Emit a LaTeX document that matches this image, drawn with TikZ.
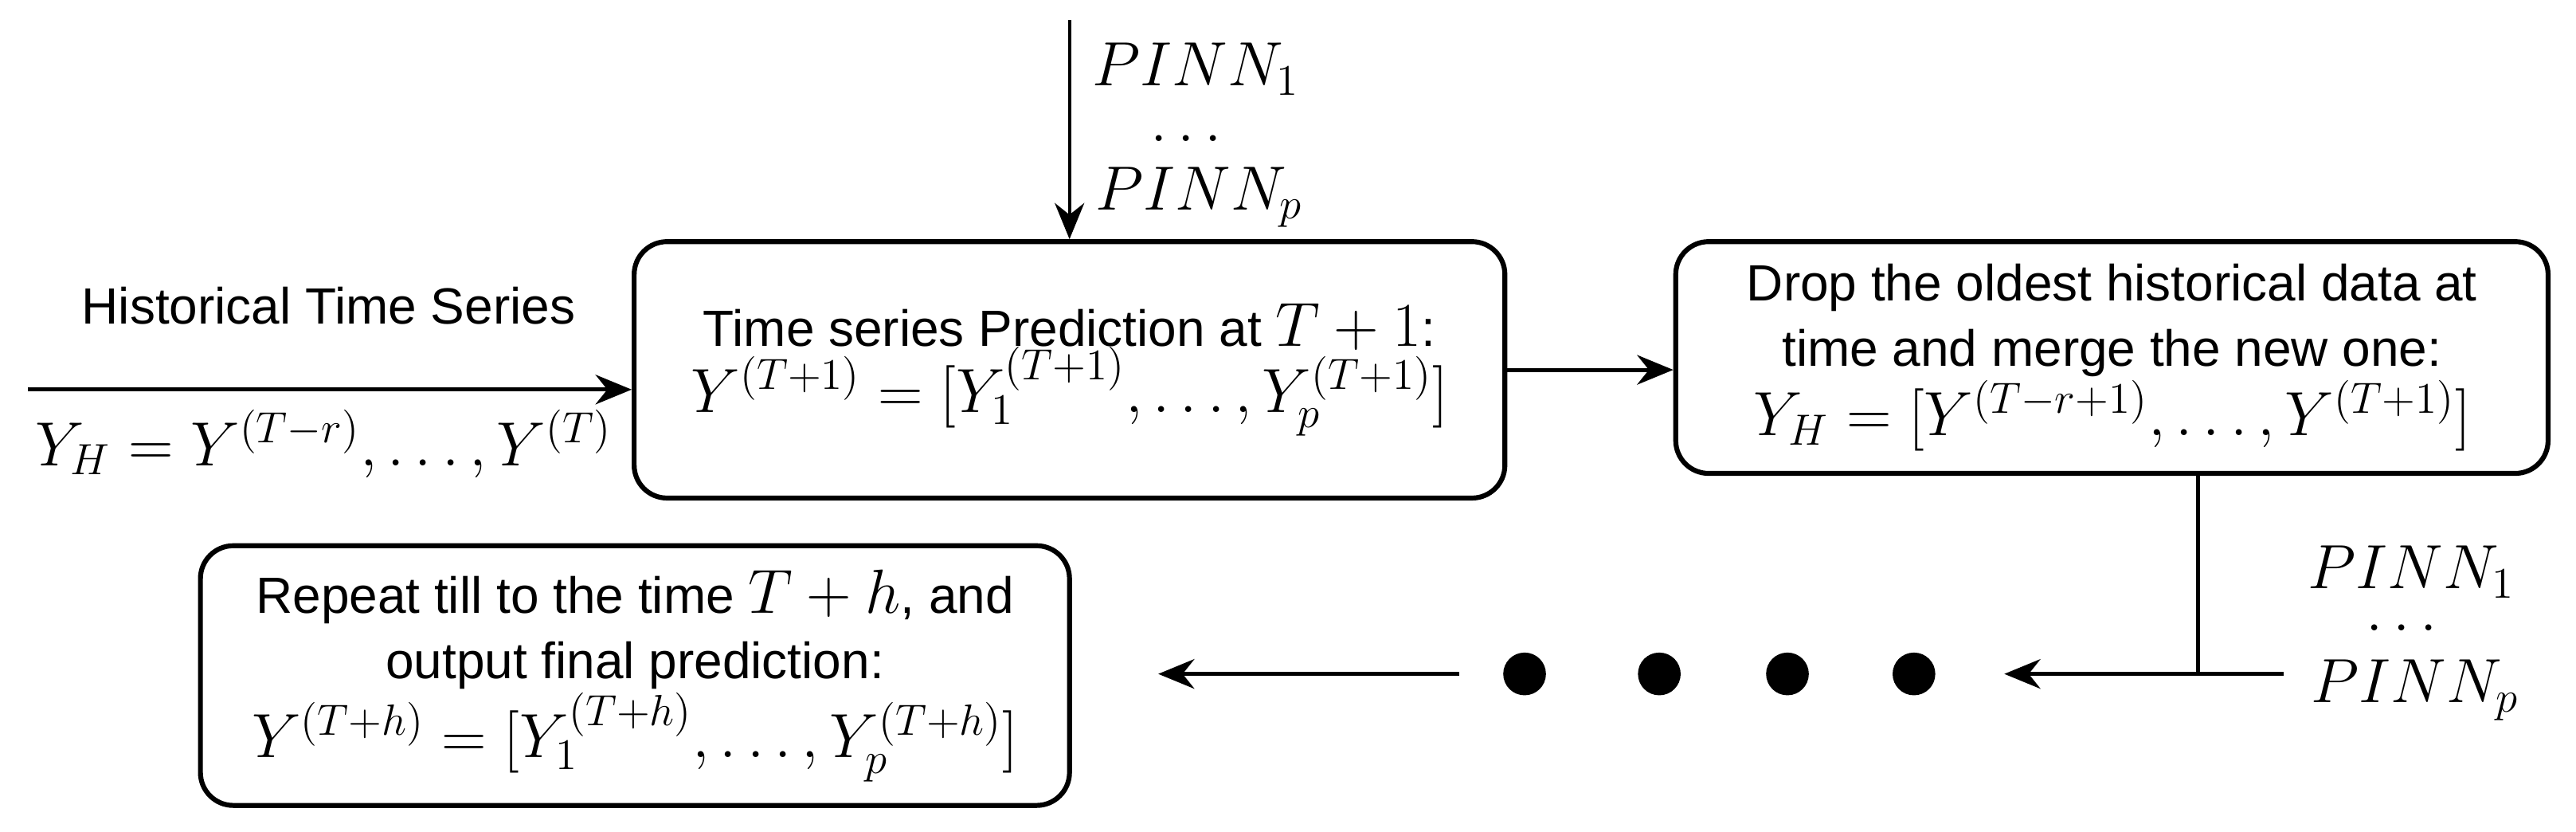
\documentclass[tikz,border=0pt]{standalone}
\usepackage{fix-cm}
\usepackage{fontspec}
\setmainfont{Liberation Sans}
\usetikzlibrary{arrows.meta}
\newcommand{\formula}[1]{{\fontsize{19}{24}\selectfont$#1$}}
\tikzset{
  stepbox/.style={draw,line width=1.5pt,rounded corners=10pt,align=center,inner sep=2pt},
  flow/.style={line width=1.2pt,-{Stealth[length=11pt,width=9pt]}},
  dot/.style={circle,fill=black,inner sep=0pt,minimum size=13pt}
}
\begin{document}
\fontsize{15.5}{20}\selectfont
\begin{tikzpicture}[x=0.5pt,y=-0.5pt]
\useasboundingbox (0,0) rectangle (1568,505.7);
% Boxes
\node[stepbox,minimum width=265pt,minimum height=78pt] (pred) at (651,225)
  {Time series Prediction at \formula{T+1}:\\[-2pt] \formula{Y^{(T+1)}=[Y_1^{(T+1)},\dots,Y_p^{(T+1)}]}};
\node[stepbox,minimum width=265.5pt,minimum height=70.5pt] (merge) at (1285.5,217.5)
  {Drop the oldest historical data at\\ time and merge the new one:\\ \formula{Y_H=[Y^{(T-r+1)},\dots,Y^{(T+1)}]}};
\node[stepbox,minimum width=264.5pt,minimum height=79pt] (final) at (386.5,411)
  {Repeat till to the time \formula{T+h}, and\\ output final prediction:\\ \formula{Y^{(T+h)}=[Y_1^{(T+h)},\dots,Y_p^{(T+h)}]}};

% Labels
\node (hist) at (200,186) {Historical Time Series};
\node (yh) at (197,270) {\formula{Y_H=Y^{(T-r)},\dots,Y^{(T)}}};
\node (p1) at (728,42) {\formula{PINN_1}};
\node (pd) at (722,84) {\formula{\dots}};
\node (pp) at (730,120) {\formula{PINN_p}};
\node (q1) at (1468,348) {\formula{PINN_1}};
\node (qd) at (1462,382) {\formula{\dots}};
\node (qp) at (1470,420) {\formula{PINN_p}};

% Dots
\foreach \i/\x in {1/928,2/1010,3/1088,4/1165}
  \node[dot] (d\i) at (\x,410) {};

% Connectors
\coordinate (top) at (651,12);
\coordinate (in) at (17,237);
\coordinate (j) at (1338,410);
\coordinate (r) at (1390,410);
\coordinate (e) at (1220,410);
\coordinate (ls) at (888,410);
\coordinate (le) at (705,410);
\draw[flow,line width=0.9pt] (top) -- (pred.north);
\draw[flow] (in) -- (in -| pred.west);
\draw[flow] (pred.east) -- (pred.east -| merge.west);
\draw[line width=1.2pt] (merge.south -| j) -- (j);
\draw[flow] (r) -- (e);
\draw[flow] (ls) -- (le);
\end{tikzpicture}
\end{document}
